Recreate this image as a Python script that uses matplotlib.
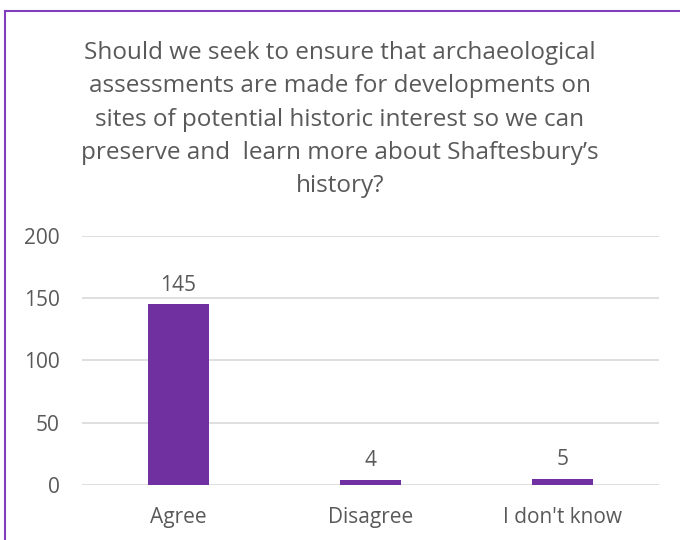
import matplotlib.pyplot as plt
from matplotlib.lines import Line2D

categories = ["Agree", "Disagree", "I don't know"]
counts = [145, 4, 5]
title = ("Should we seek to ensure that archaeological\n"
         "assessments are made for developments on\n"
         "sites of potential historic interest so we can\n"
         "preserve and  learn more about Shaftesbury\u2019s\n"
         "history?")

plt.rcParams['font.family'] = ['Open Sans', 'DejaVu Sans']
txt = '#595959'
purple = '#7030A0'

fig = plt.figure(figsize=(6.8, 5.4), dpi=100)
ax = fig.add_axes([0.1206, 0.1019, 0.8484, 0.4611])

x = range(len(categories))
bars = ax.bar(x, counts, width=0.317, color=purple, zorder=3)
for b, v in zip(bars, counts):
    ax.annotate(str(v), (b.get_x() + b.get_width() / 2, v), xytext=(0, 10),
                textcoords='offset points', ha='center', va='baseline',
                fontsize=15, color=txt)

ax.set_xlim(-0.5, 2.5)
ax.set_ylim(0, 200)
ax.set_yticks([0, 50, 100, 150, 200])
ax.set_xticks(list(x))
ax.set_xticklabels(categories)
ax.yaxis.grid(True, color='#D9D9D9', linewidth=1.2, zorder=0)
ax.tick_params(length=0, labelsize=15, labelcolor=txt)
ax.tick_params(axis='y', pad=16)
ax.tick_params(axis='x', pad=16)
for s in ax.spines.values():
    s.set_visible(False)

fig.text(0.5, 0.924, title, ha='center', va='top', fontsize=17.5,
         color=txt, linespacing=1.52)

# outer chart border (left and top edges)
fig.add_artist(Line2D([0.0075, 0.0075], [0, 0.98], transform=fig.transFigure,
                      color='#7F3FBF', linewidth=1.5))
fig.add_artist(Line2D([0.0075, 1.0], [0.98, 0.98], transform=fig.transFigure,
                      color='#7F3FBF', linewidth=1.5))

fig.savefig('out.png', dpi=100)
